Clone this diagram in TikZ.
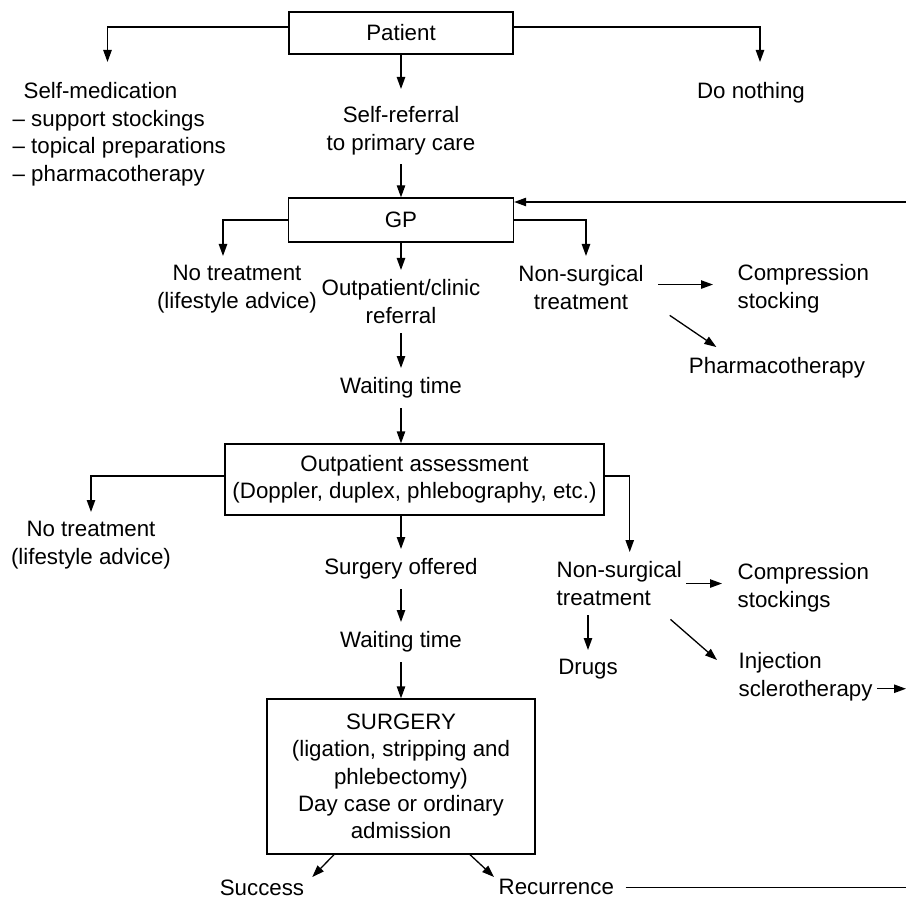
\documentclass[tikz,border=0pt]{standalone}
\usepackage{fontspec}
\setmainfont{Liberation Sans}
\usepackage{tikz}
\usetikzlibrary{arrows.meta}

\begin{document}
\begin{tikzpicture}[x=0.5pt, y=-0.5pt, ->, >={Triangle[length=6pt,width=4.2pt]},
	line width=0.65pt, every node/.style={font=\fontsize{11.15pt}{13.7pt}\selectfont}]

	\tikzstyle{box}=[draw, line width=0.65pt, align=center, inner sep=3pt]
	\tikzstyle{txt}=[inner xsep=2pt, inner ysep=4.5pt, align=center]
	\useasboundingbox (0,0) rectangle (906,899);
	\coordinate (redge) at (906,0);

	% boxes
	\node[box, minimum width=112pt, minimum height=21pt] (patient) at (401,33) {Patient};
	\node[box, minimum width=112.5pt, minimum height=22pt] (gp) at (401,220) {GP};
	\node[box, minimum width=189.5pt, minimum height=35.5pt] (assess) at (414.5,479.5)
		{Outpatient assessment\\(Doppler, duplex, phlebography, etc.)};
	\node[box, minimum width=134pt, minimum height=77.5pt] (surgery) at (401,776.5)
		{SURGERY\\(ligation, stripping and\\phlebectomy)\\Day case or ordinary\\admission};

	% From Patient
	\node[txt, align=left, anchor=north west] (selfmed) at (8,73)
		{\hspace*{5.5pt}Self-medication\\– support stockings\\– topical preparations\\– pharmacotherapy};
	\node[txt, anchor=north] (nothing) at (751,73) {Do nothing};
	\node[txt, anchor=north] (selfref) at (401,97) {Self-referral\\to primary care};
	\draw[shorten >=5.5pt] ([yshift=3pt]patient.west) -| ([xshift=49.75pt]selfmed.north west);
	\draw[shorten >=5.5pt] ([yshift=3pt]patient.east) -| ([xshift=4.5pt]nothing.north);
	\draw[shorten >=4pt] (patient) -- (selfref);
	\draw (selfref) -- (gp);

	% From GP
	\node[txt, anchor=north] (gpnone) at (237,256) {No treatment\\(lifestyle advice)};
	\node[txt, anchor=north] (referral) at (401,270) {Outpatient/clinic\\referral};
	\node[txt, anchor=north] (gpnonsurg) at (581,256) {Non-surgical\\treatment};
	\node[txt, align=left, anchor=north west] (gpstocking) at (733,255) {Compression\\stocking};
	\node[txt, anchor=north] (gppharma) at (777,348) {Pharmacotherapy};
	\node[txt, anchor=north] (wait1) at (401,368) {Waiting time};
	\draw (gp.west) -| ([xshift=-7pt]gpnone.north);
	\draw (gp) -- (referral);
	\draw (gp.east) -| ([xshift=2.5pt]gpnonsurg.north);
	\draw[shorten <=5pt, shorten >=10pt] ([yshift=1.5pt]gpnonsurg.east) -- ([yshift=1.5pt]gpnonsurg.east -| gpstocking.west);
	\draw ([shift={(10.75pt,1.85pt)}]gpnonsurg.south east) -- ([shift={(16pt,0.5pt)}]gppharma.north west);
	\draw (referral) -- (wait1);
	\draw (wait1) -- (wait1 |- assess.north);

	% From outpatient assessment
	\node[txt, anchor=north] (opnone) at (91,512) {No treatment\\(lifestyle advice)};
	\node[txt, anchor=north] (offered) at (401,549) {Surgery offered};
	\node[txt, align=left, anchor=north west] (opnonsurg) at (552,552) {Non-surgical\\treatment};
	\node[txt, align=left, anchor=north west] (opstockings) at (733,554) {Compression\\stockings};
	\node[txt, anchor=north] (drugs) at (588,650) {Drugs};
	\node[txt, align=left, anchor=north west] (sclero) at (734,643) {Injection\\sclerotherapy};
	\node[txt, anchor=north] (wait2) at (401,622) {Waiting time};
	\draw ([yshift=1.75pt]assess.west) -| (opnone.north);
	\draw (offered |- assess.south) -- (offered);
	\draw ([yshift=1.75pt]assess.east) -| ([xshift=5.25pt]opnonsurg.north);
	\draw[shorten >=5.5pt] (opnonsurg.east) -- (opnonsurg.east -| opstockings.west);
	\draw (opnonsurg.south -| drugs.north) -- (drugs);
	\draw ([shift={(-8pt,-2.15pt)}]opnonsurg.south east) -- ([shift={(-8.5pt,-8.5pt)}]sclero.north west);
	\draw ([yshift=-6pt]sclero.east) -- ([yshift=-6pt]sclero.east -| redge);
	\draw (offered) -- (wait2);
	\draw (wait2) -- (surgery);

	% From surgery
	\node[txt, anchor=north] (success) at (262,870) {Success};
	\node[txt, anchor=north west] (recur) at (494,870) {Recurrence};
	\draw ([xshift=-33.5pt]surgery.south) -- ([shift={(1.75pt,-3.5pt)}]success.north east);
	\draw ([xshift=34.5pt]surgery.south) -- ([yshift=-3.5pt]recur.north west);
	\draw[-] ([xshift=3.5pt]recur.east) -- (recur.east -| redge);

	% back to GP
	\draw ([yshift=9pt]gp.east -| redge) -- ([yshift=9pt]gp.east);

\end{tikzpicture}
\end{document}
